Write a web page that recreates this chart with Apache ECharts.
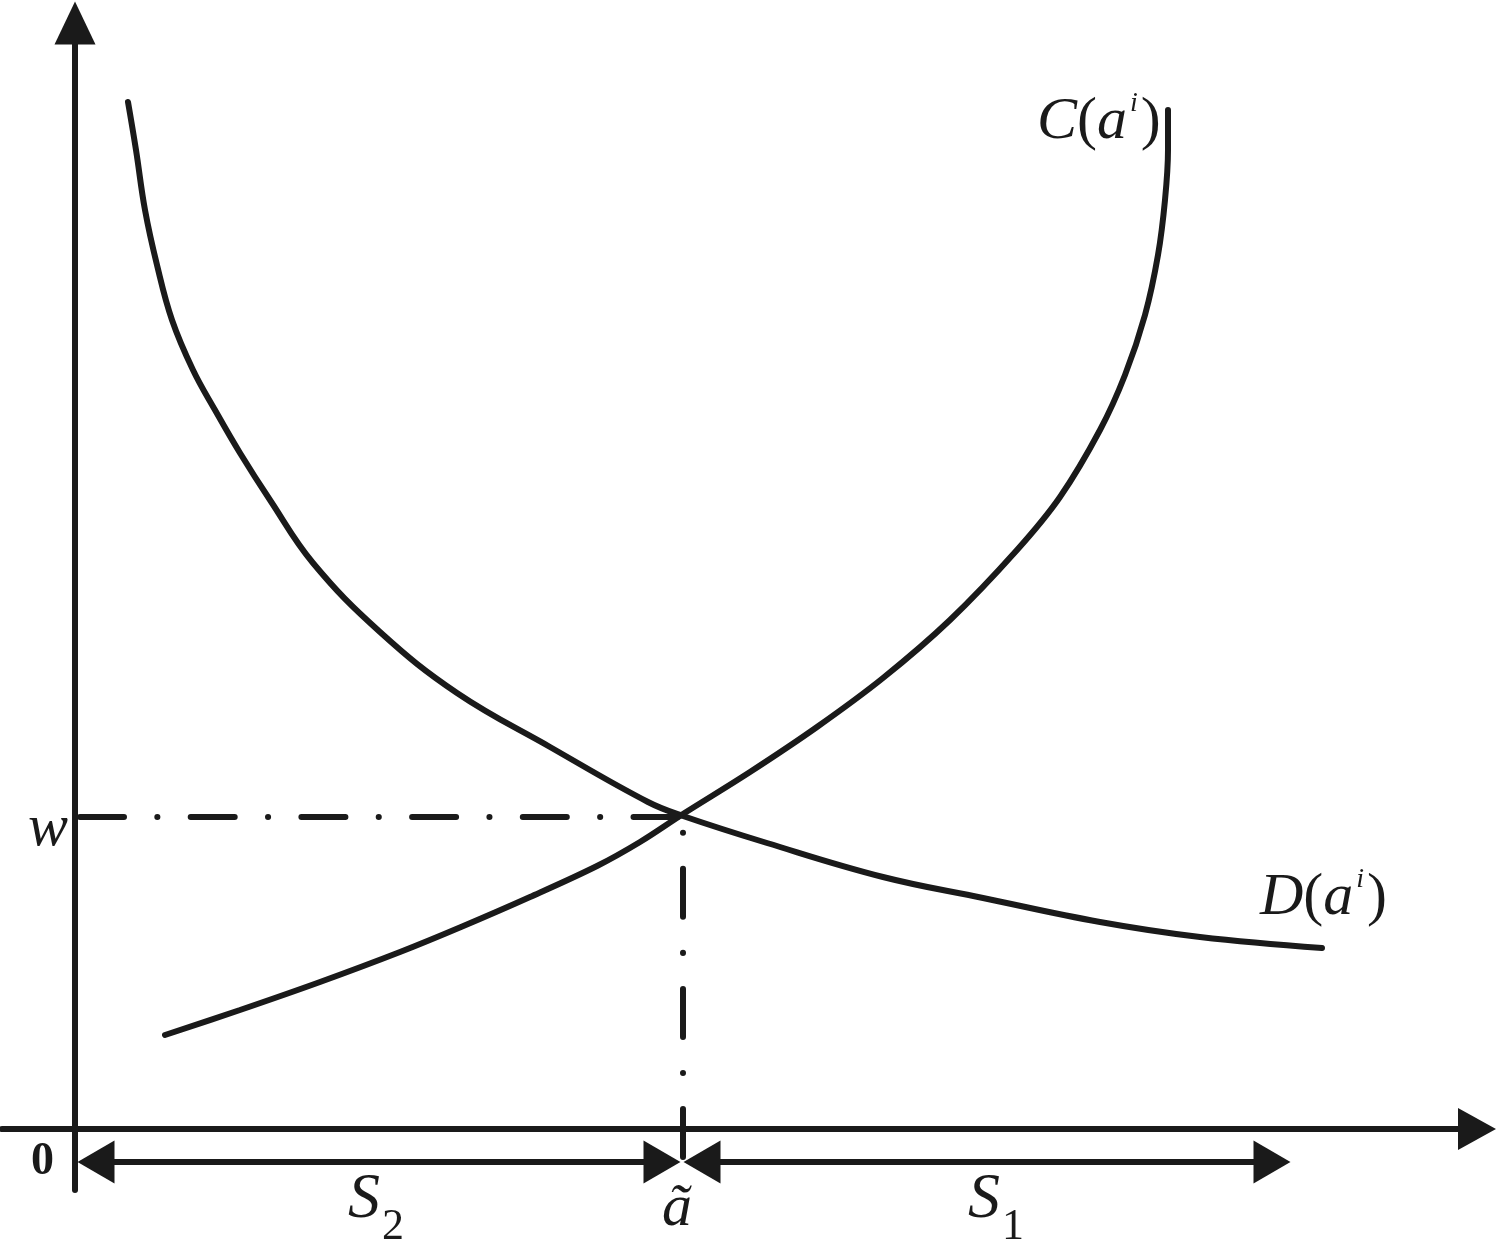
<!DOCTYPE html>
<html>
<head>
<meta charset="utf-8">
<script src="https://cdn.jsdelivr.net/npm/echarts@6.0.0/dist/echarts.min.js"></script>
<style>
  html, body { margin: 0; padding: 0; background: #fff; }
  #main { width: 1500px; height: 1244px; }
</style>
</head>
<body>
<div id="main"></div>
<script>
// curve points (a on x, value on y)
var costA = [9.0, 16.5, 24.5, 32.5, 38.6, 45.5, 52.2, 56.5, 60.8, 67.5, 74.2, 80.8, 87.5, 94.2, 98.5, 102.5, 105.0, 107.0, 108.3, 109.0, 109.3, 109.3];
var costV = [9.4, 11.9, 14.7, 17.7, 20.2, 23.2, 26.3, 28.7, 31.5, 35.7, 40.2, 45.1, 50.9, 57.9, 63.2, 69.9, 75.4, 81.4, 87.4, 92.9, 97.9, 101.9];
var demandA = [5.3, 6.1, 7.0, 8.2, 9.7, 11.8, 14.0, 16.5, 19.5, 23.8, 30.5, 38.2, 47.5, 57.3, 60.8, 69.2, 80.8, 90.8, 102.5, 112.5, 124.7];
var demandV = [102.7, 97.9, 91.9, 86.4, 80.9, 75.9, 71.9, 67.6, 62.9, 56.6, 49.7, 43.6, 38.2, 32.7, 31.3, 28.6, 25.2, 23.1, 20.7, 19.2, 18.1];
var wage = 31.2;      // w
var aTilde = 60.8;    // ã
var spanS2 = [0.3, 60.5];
var spanS1 = [60.9, 121.5];
var spanLevel = -3.3;

var ink = '#1a1a1a';
var serif = 'Liberation Serif, Times New Roman, serif';

function pairs(xs, ys) {
  return xs.map(function (x, i) { return [x, ys[i]]; });
}

var itBig = { fontFamily: serif, fontStyle: 'italic', fontSize: 60, lineHeight: 70, color: ink };
var upBig = { fontFamily: serif, fontSize: 60, lineHeight: 70, color: ink };
var supSmall = { fontFamily: serif, fontStyle: 'italic', fontSize: 28, lineHeight: 28, padding: [0, 3, 36, 3], color: ink };
var sBig = { fontFamily: serif, fontStyle: 'italic', fontSize: 64, lineHeight: 100, color: ink };
var subSmall = { fontFamily: serif, fontSize: 44, lineHeight: 44, padding: [54, 0, 0, 2], color: ink };

var labels = [
  { value: [96.2, 100.7], text: '{it|C}{up|(}{it|a}{sup|i}{up|)}' },
  { value: [118.5, 23.1], text: '{it|D}{up|(}{it|a}{sup|i}{up|)}' },
  { value: [-4.7, 30.0], text: '{it|w}' },
  { value: [-4.4, -3.3], text: '{zero|0}' },
  { value: [27.3, -7.1], text: '{s|S}{sub|2}' },
  { value: [58.7, -8.0], text: '{it|ã}' },
  { value: [89.3, -7.1], text: '{s|S}{sub|1}' }
];

var heads = [
  { value: [spanS2[0], spanLevel], symbolRotate: 90, symbolOffset: [18, 0] },
  { value: [spanS2[1], spanLevel], symbolRotate: -90, symbolOffset: [-18, 0] },
  { value: [spanS1[0], spanLevel], symbolRotate: 90, symbolOffset: [18, 0] },
  { value: [spanS1[1], spanLevel], symbolRotate: -90, symbolOffset: [-18, 0] }
];

var myChart = echarts.init(document.getElementById('main'));
var option = {
  animation: false,
  backgroundColor: '#fff',
  grid: { left: 2, right: 23, top: 23, bottom: 54 },
  xAxis: {
    type: 'value',
    min: -7.3,
    max: 140.2,
    axisLine: {
      onZero: true,
      symbol: ['none', 'triangle'],
      symbolSize: [42, 38],
      lineStyle: { color: ink, width: 6 }
    },
    axisTick: { show: false },
    axisLabel: { show: false },
    splitLine: { show: false }
  },
  yAxis: {
    type: 'value',
    min: -6.1,
    max: 110.6,
    axisLine: {
      show: true,
      onZero: true,
      symbol: ['none', 'triangle'],
      symbolSize: [41, 43],
      lineStyle: { color: ink, width: 6 }
    },
    axisTick: { show: false },
    axisLabel: { show: false },
    splitLine: { show: false }
  },
  series: [
    {
      name: 'D',
      type: 'line',
      data: pairs(demandA, demandV),
      showSymbol: false,
      smooth: 0.4,
      lineStyle: { color: ink, width: 6, cap: 'round' }
    },
    {
      name: 'C',
      type: 'line',
      data: pairs(costA, costV),
      showSymbol: false,
      smooth: 0.35,
      lineStyle: { color: ink, width: 6, cap: 'round' }
    },
    {
      name: 'w',
      type: 'line',
      data: [[0.5, wage], [aTilde, wage]],
      showSymbol: false,
      lineStyle: { color: ink, width: 6, cap: 'round', type: [44, 33.3, 0.1, 33.3] }
    },
    {
      name: 'aTilde',
      type: 'line',
      data: [[aTilde, -2.8], [aTilde, wage]],
      showSymbol: false,
      lineStyle: { color: ink, width: 6, cap: 'round', type: [48, 36, 0.1, 36] }
    },
    {
      name: 'S2',
      type: 'line',
      data: [[spanS2[0] + 1, spanLevel], [spanS2[1] - 1, spanLevel]],
      showSymbol: false,
      lineStyle: { color: ink, width: 6 }
    },
    {
      name: 'S1',
      type: 'line',
      data: [[spanS1[0] + 1, spanLevel], [spanS1[1] - 1, spanLevel]],
      showSymbol: false,
      lineStyle: { color: ink, width: 6 }
    },
    {
      name: 'heads',
      type: 'scatter',
      data: heads,
      symbol: 'triangle',
      symbolSize: [43, 37],
      itemStyle: { color: ink, opacity: 1 },
      silent: true
    },
    {
      name: 'labels',
      type: 'scatter',
      data: labels,
      symbolSize: 0,
      clip: false,
      silent: true,
      itemStyle: { opacity: 1 },
      label: {
        show: true,
        position: [0, 0],
        align: 'left',
        verticalAlign: 'middle',
        opacity: 1,
        formatter: function (p) { return p.data.text; },
        rich: {
          it: itBig,
          up: upBig,
          sup: supSmall,
          s: sBig,
          sub: subSmall,
          zero: { fontFamily: serif, fontWeight: 'bold', fontSize: 46, lineHeight: 50, color: ink }
        }
      }
    }
  ]
};
myChart.setOption(option);
</script>
</body>
</html>
